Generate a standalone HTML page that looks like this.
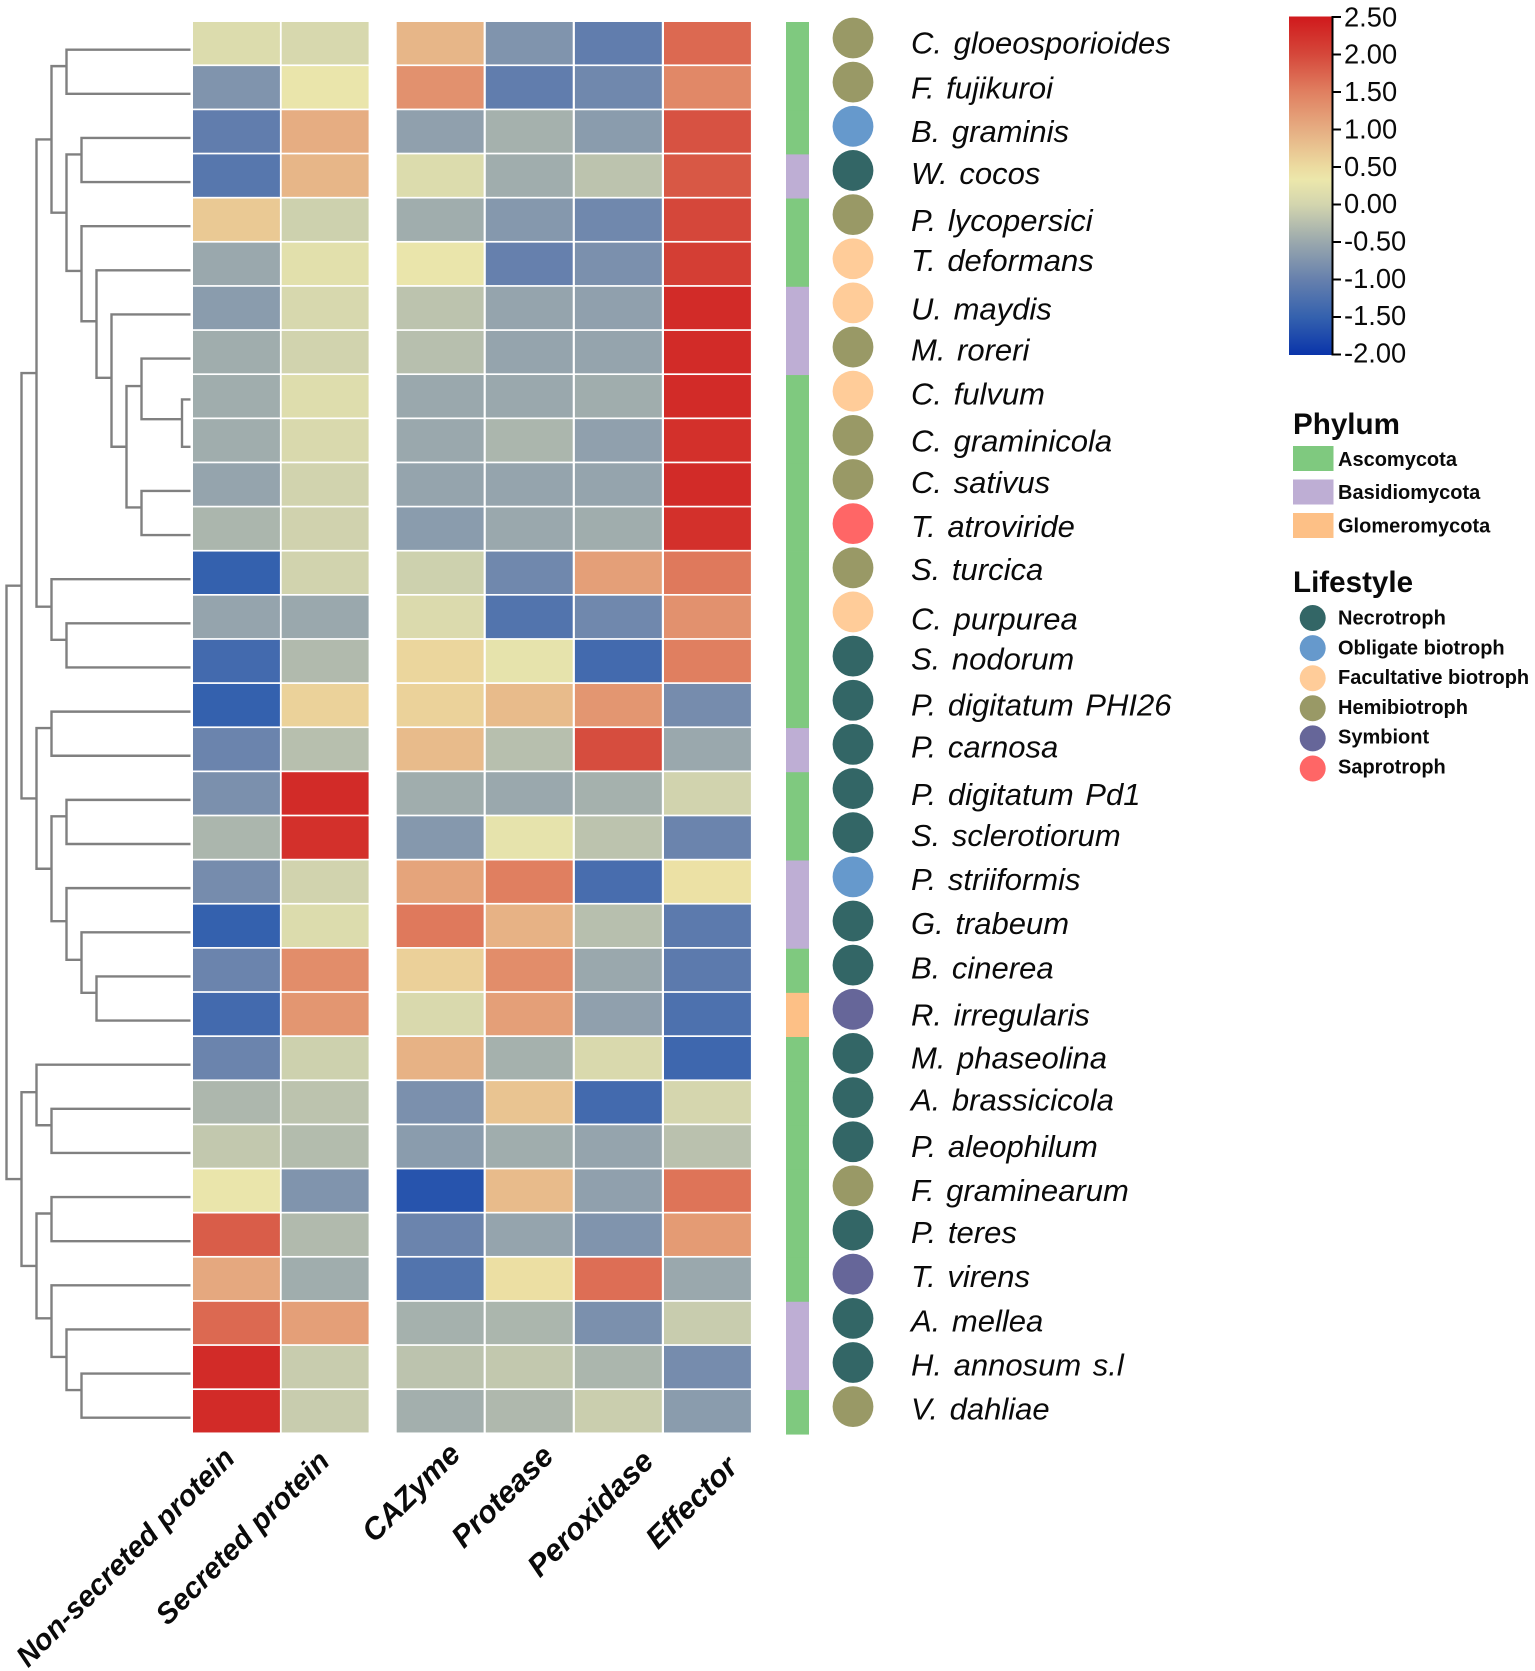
<!DOCTYPE html>
<html lang="en">
<head>
<meta charset="utf-8">
<title>Secretome heatmap</title>
<style>
html,body{margin:0;padding:0;background:#fff;width:1535px;height:1671px;overflow:hidden}
svg{display:block}
text{font-family:"Liberation Sans",sans-serif;fill:#0a0a0a}
</style>
</head>
<body>
<svg id="chart" xmlns="http://www.w3.org/2000/svg" width="1535" height="1671" viewBox="0 0 1535 1671"></svg>
<script>
const species = ['C. gloeosporioides','F. fujikuroi','B. graminis','W. cocos','P. lycopersici','T. deformans','U. maydis','M. roreri','C. fulvum','C. graminicola','C. sativus','T. atroviride','S. turcica','C. purpurea','S. nodorum','P. digitatum PHI26','P. carnosa','P. digitatum Pd1','S. sclerotiorum','P. striiformis','G. trabeum','B. cinerea','R. irregularis','M. phaseolina','A. brassicicola','P. aleophilum','F. graminearum','P. teres','T. virens','A. mellea','H. annosum s.l','V. dahliae'];
const columnNames = ['Non-secreted protein','Secreted protein','CAZyme','Protease','Peroxidase','Effector'];
const nonSecreted = [.12,-.75,-1.05,-1.15,.7,-.5,-.65,-.45,-.45,-.45,-.55,-.35,-1.5,-.55,-1.35,-1.5,-.95,-.8,-.35,-.85,-1.5,-.95,-1.35,-.95,-.33,-.15,.3,1.8,1.05,1.7,2.3,2.3];
const secreted = [.05,.3,1.0,.9,-.05,.2,.05,-.02,.15,.08,-.02,-.03,-.02,-.5,-.3,.6,-.25,2.3,2.25,-.02,.12,1.35,1.25,-.05,-.2,-.28,-.75,-.3,-.45,1.15,-.1,-.1];
const cazyme = [.9,1.3,-.6,.12,-.45,.3,-.2,-.25,-.5,-.5,-.55,-.65,-.05,.1,.55,.6,.85,-.45,-.7,1.1,1.55,.62,.08,.95,-.8,-.65,-1.65,-.95,-1.2,-.4,-.2,-.42];
const protease = [-.75,-1.05,-.4,-.45,-.7,-1.0,-.55,-.55,-.5,-.35,-.55,-.5,-.9,-1.2,.25,.85,-.25,-.5,.25,1.5,.95,1.35,1.15,-.4,.75,-.45,.85,-.55,.45,-.35,-.15,-.32];
const peroxidase = [-1.05,-.9,-.65,-.2,-.9,-.8,-.6,-.55,-.45,-.6,-.55,-.45,1.15,-.9,-1.35,1.25,1.95,-.4,-.2,-1.3,-.25,-.5,-.6,.08,-1.35,-.55,-.6,-.75,1.65,-.8,-.35,-.08];
const effector = [1.7,1.4,1.9,1.85,2.0,2.1,2.3,2.3,2.3,2.25,2.3,2.25,1.55,1.3,1.5,-.85,-.5,-.02,-.95,.42,-1.1,-1.1,-1.25,-1.4,.02,-.22,1.6,1.2,-.5,-.1,-.85,-.65];
const phylumByRow = ['Asc','Asc','Asc','Bas','Asc','Asc','Bas','Bas','Asc','Asc','Asc','Asc','Asc','Asc','Asc','Asc','Bas','Asc','Asc','Bas','Bas','Asc','Glo','Asc','Asc','Asc','Asc','Asc','Asc','Bas','Bas','Asc'];
const lifestyleByRow = ['Hemi','Hemi','Obl','Nec','Hemi','Fac','Fac','Hemi','Fac','Hemi','Hemi','Sap','Hemi','Fac','Nec','Nec','Nec','Nec','Nec','Obl','Nec','Nec','Sym','Nec','Nec','Nec','Hemi','Nec','Sym','Nec','Nec','Hemi'];
const colorbarTicks = [2.5,2,1.5,1,.5,0,-.5,-1,-1.5,-2];
const phylumLegend = ['Ascomycota','Basidiomycota','Glomeromycota'];
const lifestyleLegend = ['Necrotroph','Obligate biotroph','Facultative biotroph','Hemibiotroph','Symbiont','Saprotroph'];
const tree = [0,
  [1,
    [2,
      [3,
        [4,0,1],
        [4,[5,2,3],[5,4,[6,5,[7,6,[8,[9,7,[11.7,8,9]],[9,10,11]]]]]]
      ],
      [3,12,[4,13,14]]
    ],
    [2,
      [3,15,16],
      [3,[4,17,18],[4,19,[5,20,[6,21,22]]]]
    ]
  ],
  [1,
    [2,23,[3,24,25]],
    [2,[3,26,27],[3,28,[4,29,[5,30,31]]]]
  ]
];

const phylumColors = {Asc:'#7fc97f',Bas:'#beaed4',Glo:'#fdc086'};
const lifestyleColors = {Nec:'#336666',Obl:'#6699cc',Fac:'#ffcc99',Hemi:'#999966',Sym:'#666699',Sap:'#ff6666'};
const colorStops = [[-2,'#0a34aa'],[-1.5,'#3461ae'],[-1,'#6680ad'],[-.5,'#9aa8ad'],[0,'#d3d5ae'],[.33,'#ece7ab'],[.5,'#ecdba0'],[1,'#e6ad82'],[1.5,'#e07f60'],[2,'#d5473a'],[2.5,'#d0191c']];

const NS = 'http://www.w3.org/2000/svg';
const svg = document.getElementById('chart');
const hex = c => [1,3,5].map(i => parseInt(c.substr(i,2),16));
function colorScale(v){
  const t = Math.max(-2,Math.min(2.5,v));
  for(let i=1;i<colorStops.length;i++){
    if(t<=colorStops[i][0]){
      const [a,ca]=colorStops[i-1],[b,cb]=colorStops[i];
      const f=(t-a)/(b-a),x=hex(ca),y=hex(cb);
      return 'rgb('+x.map((q,k)=>Math.round(q+(y[k]-q)*f)).join(',')+')';
    }
  }
  return colorStops[colorStops.length-1][1];
}
const rowTop = 22, rowPitch = 44.13;
const rowY = r => rowTop + rowPitch*r;
const rowMid = r => rowY(r) + rowPitch/2;
const colX = c => c<2 ? 193 + 88.7*c : 396.7 + 89.1*(c-2);
const colW = 86.9;
const treeX = h => 6.5 + 15*h;
const barY = v => 17 + (2.5-v)*75;

function make(tag,attrs,parent,txt){
  const n=document.createElementNS(NS,tag);
  for(const k in attrs) n.setAttribute(k,attrs[k]);
  if(txt!==undefined) n.textContent=txt;
  (parent||svg).appendChild(n);
  return n;
}
const markOff = 'false';

/* dendrogram */
const dendro = make('g',{fill:'none',stroke:'#808080','stroke-width':2.4},svg);


const leafDrop = r => r===8 ? 2.3 : 5.6;
const leafEnd = 190.5;
function drawTree(node){
  if(typeof node==='number') return {y:rowMid(node),drawY:rowMid(node)+leafDrop(node),x:leafEnd};
  const a=drawTree(node[1]),b=drawTree(node[2]),x=treeX(node[0]);
  const seg=make('path',{d:'M'+a.x+' '+a.drawY+'H'+x+'V'+b.drawY+'H'+b.x},dendro);
  
  
  const y=(a.y+b.y)/2;
  return {y:y,drawY:y,x:x};
}
drawTree(tree);

/* heatmap */
const columns = [nonSecreted,secreted,cazyme,protease,peroxidase,effector];
const heat = make('g',{},svg);


columns.forEach((vals,c)=>{
  vals.forEach((v,r)=>{
    const cell=make('rect',{x:colX(c),y:rowY(r),width:colW,height:rowPitch-1.7,fill:colorScale(v)},heat);
    
    
  });
});

/* phylum strip, lifestyle dots, species labels */
const labelNudge = {'C. gloeosporioides':-1,'B. graminis':-1,'W. cocos':-3,'T. deformans':-4,'M. roreri':-3,'C. fulvum':-3,'C. sativus':-3,'T. atroviride':-3,'S. turcica':-4,'C. purpurea':1,'S. nodorum':-3,'P. digitatum PHI26':-1,'P. carnosa':-3,'S. sclerotiorum':-3,'P. striiformis':-3,'G. trabeum':-3,'B. cinerea':-3,'M. phaseolina':-1,'A. brassicicola':-3,'P. aleophilum':-1,'F. graminearum':-1,'P. teres':-3,'T. virens':-3,'A. mellea':-3,'H. annosum s.l':-3,'V. dahliae':-3};
species.forEach((name,r)=>{
  const strip=make('rect',{x:786,y:rowY(r),width:23,height:rowPitch+.4,fill:phylumColors[phylumByRow[r]]});
  
  
  const dot=make('circle',{cx:853,cy:38+44.15*r,r:20.4,fill:lifestyleColors[lifestyleByRow[r]]});
  
  
  const label=make('text',{x:911,y:rowMid(r)+10.5+(labelNudge[name]||0),'font-size':31,'font-style':'italic','word-spacing':3},svg,name);
  
  
});

/* column labels */
const labelEndOffset = [0,6,22,26,37,32];
columnNames.forEach((name,c)=>{
  const ex=colX(c)+colW/2+labelEndOffset[c], ey=[1460,1463,1456,1458,1463,1469][c];
  const t=make('text',{x:ex,y:ey,'font-size':c<2?29.3:30.6,'font-weight':'bold','font-style':'italic','text-anchor':'end',transform:'rotate(-45 '+ex+' '+ey+')'},svg,name);
  
  
});

/* colorbar */
const defs=make('defs',{},svg);
const grad=make('linearGradient',{id:'cbar',x1:0,y1:1,x2:0,y2:0},defs);
colorStops.forEach(s=>{
  make('stop',{offset:(s[0]+2)/4.5,'stop-color':s[1]},grad);
});
const bar=make('rect',{x:1289,y:barY(2.5)-.5,width:43,height:barY(-2)-barY(2.5)+1,fill:'url(#cbar)'});


const axis=make('line',{x1:1332.5,x2:1332.5,y1:barY(2.5)-1,y2:barY(-2)+1,stroke:'#000','stroke-width':2});


colorbarTicks.forEach(v=>{
  const tick=make('line',{x1:1332,x2:1341,y1:barY(v),y2:barY(v),stroke:'#000','stroke-width':2});
  
  
  const lab=make('text',{x:1344,y:barY(v)+9.2-(2-v)*.3,'font-size':27.3},svg,v.toFixed(2));
  
  
});

/* legends */
const phyTitle=make('text',{x:1293,y:434,'font-size':29.6,'font-weight':'bold'},svg,'Phylum');


phylumLegend.forEach((name,i)=>{
  const key=name.slice(0,3);
  const sw=make('rect',{x:1293,y:446+33.5*i,width:40.5,height:25,fill:phylumColors[key]});
  
  
  const t=make('text',{x:1338,y:466+33.2*i,'font-size':20,'font-weight':'bold'},svg,name);
  
  
});
const lifeTitle=make('text',{x:1293,y:592,'font-size':29.6,'font-weight':'bold'},svg,'Lifestyle');


const lifeKeys=['Nec','Obl','Fac','Hemi','Sym','Sap'];
lifestyleLegend.forEach((name,i)=>{
  const d=make('circle',{cx:1312.7,cy:618+30.1*i,r:13,fill:lifestyleColors[lifeKeys[i]]});
  
  
  const t=make('text',{x:1338,y:624.5+29.8*i,'font-size':20,'font-weight':'bold'},svg,name);
  
  
});
</script>
</body>
</html>
